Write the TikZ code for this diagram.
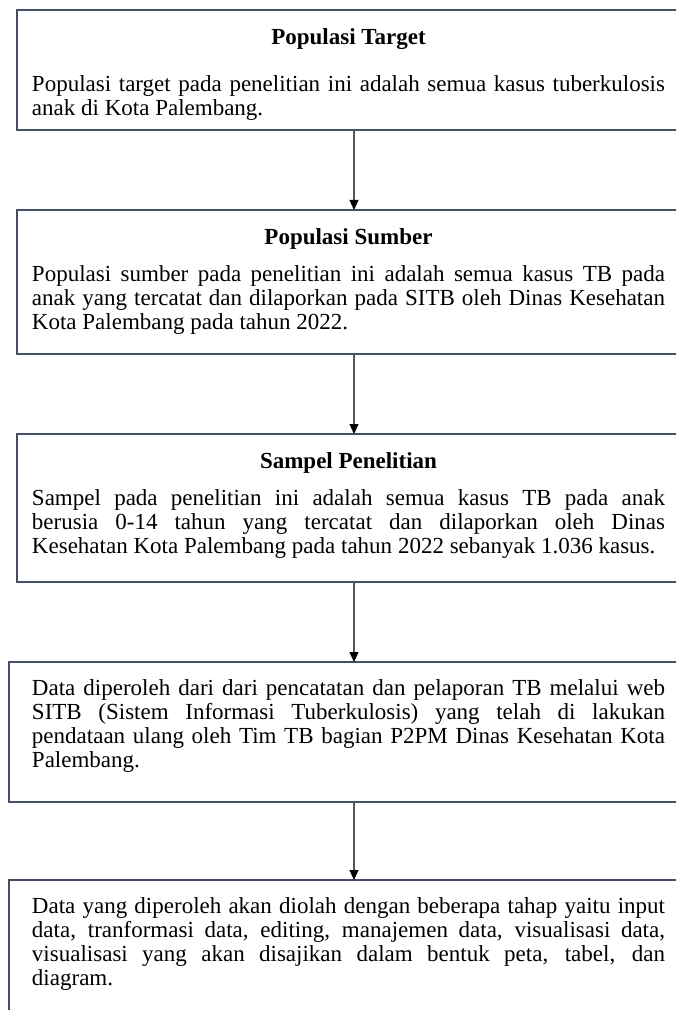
\documentclass[tikz,border=0pt]{standalone}
\usepackage{fontspec}
\setmainfont{Liberation Serif}
\usepackage{xcolor}
\usetikzlibrary{arrows.meta, positioning}
\definecolor{boxline}{RGB}{68,78,100}
\definecolor{arrline}{RGB}{85,85,85}
\hyphenpenalty=10000
\exhyphenpenalty=10000

\begin{document}
\begin{tikzpicture}[node distance=40pt,block/.style={draw=boxline,line width=1pt,rectangle,anchor=north,outer sep=0pt,text width=316.5pt,align=justify,inner xsep=7.5pt,inner ysep=9pt,text depth=#1,font=\fontsize{11.5pt}{12pt}\selectfont},wide/.style={block=#1,inner xsep=11.5pt,inner ysep=8.5pt},flow/.style={draw=arrline,line width=0.6pt,-{Triangle[length=5pt,width=4.5pt,color=black]}}]
  \useasboundingbox (0,0) rectangle (338pt,-505pt);
  \clip (0,0) rectangle (338pt,-505pt);
  \node[block=33.6pt] (target) at (174.25pt,-5pt) {\strut\hfill\textbf{Populasi Target}\hfill\null\\[11.5pt]Populasi target pada penelitian ini adalah semua kasus tuberkulosis\linebreak anak di Kota Palembang.};
  \node[block=45.6pt,below=of target] (sumber) {\strut\hfill\textbf{Populasi Sumber}\hfill\null\\[6.5pt]Populasi sumber pada penelitian ini adalah semua kasus TB pada\linebreak anak yang tercatat dan dilaporkan pada SITB oleh Dinas Kesehatan\linebreak Kota Palembang pada tahun 2022.};
  \node[block=47.6pt,below=of sumber] (sampel) {\strut\hfill\textbf{Sampel Penelitian}\hfill\null\\[6.5pt]Sampel pada penelitian ini adalah semua kasus TB pada anak\linebreak berusia 0-14 tahun yang tercatat dan dilaporkan oleh Dinas\linebreak Kesehatan Kota Palembang pada tahun 2022 sebanyak 1.036 kasus.};
  \node[wide=44.6pt,below=of sampel] (data) {\strut Data diperoleh dari dari pencatatan dan pelaporan TB melalui web\linebreak SITB (Sistem Informasi Tuberkulosis) yang telah di lakukan\linebreak pendataan ulang oleh Tim TB bagian P2PM Dinas Kesehatan Kota\linebreak Palembang.};
  \node[wide=57pt,below=39pt of data] (olah) {\strut Data yang diperoleh akan diolah dengan beberapa tahap yaitu input\linebreak data, tranformasi data, editing, manajemen data, visualisasi data,\linebreak visualisasi yang akan disajikan dalam bentuk peta, tabel, dan\linebreak diagram.};
  \coordinate (mid) at (177pt,0);
  \draw[flow] (target.south -| mid) -- (sumber.north -| mid);
  \draw[flow] (sumber.south -| mid) -- (sampel.north -| mid);
  \draw[flow] (sampel.south -| mid) -- (data.north -| mid);
  \draw[flow] (data.south -| mid) -- (olah.north -| mid);
\end{tikzpicture}
\end{document}
